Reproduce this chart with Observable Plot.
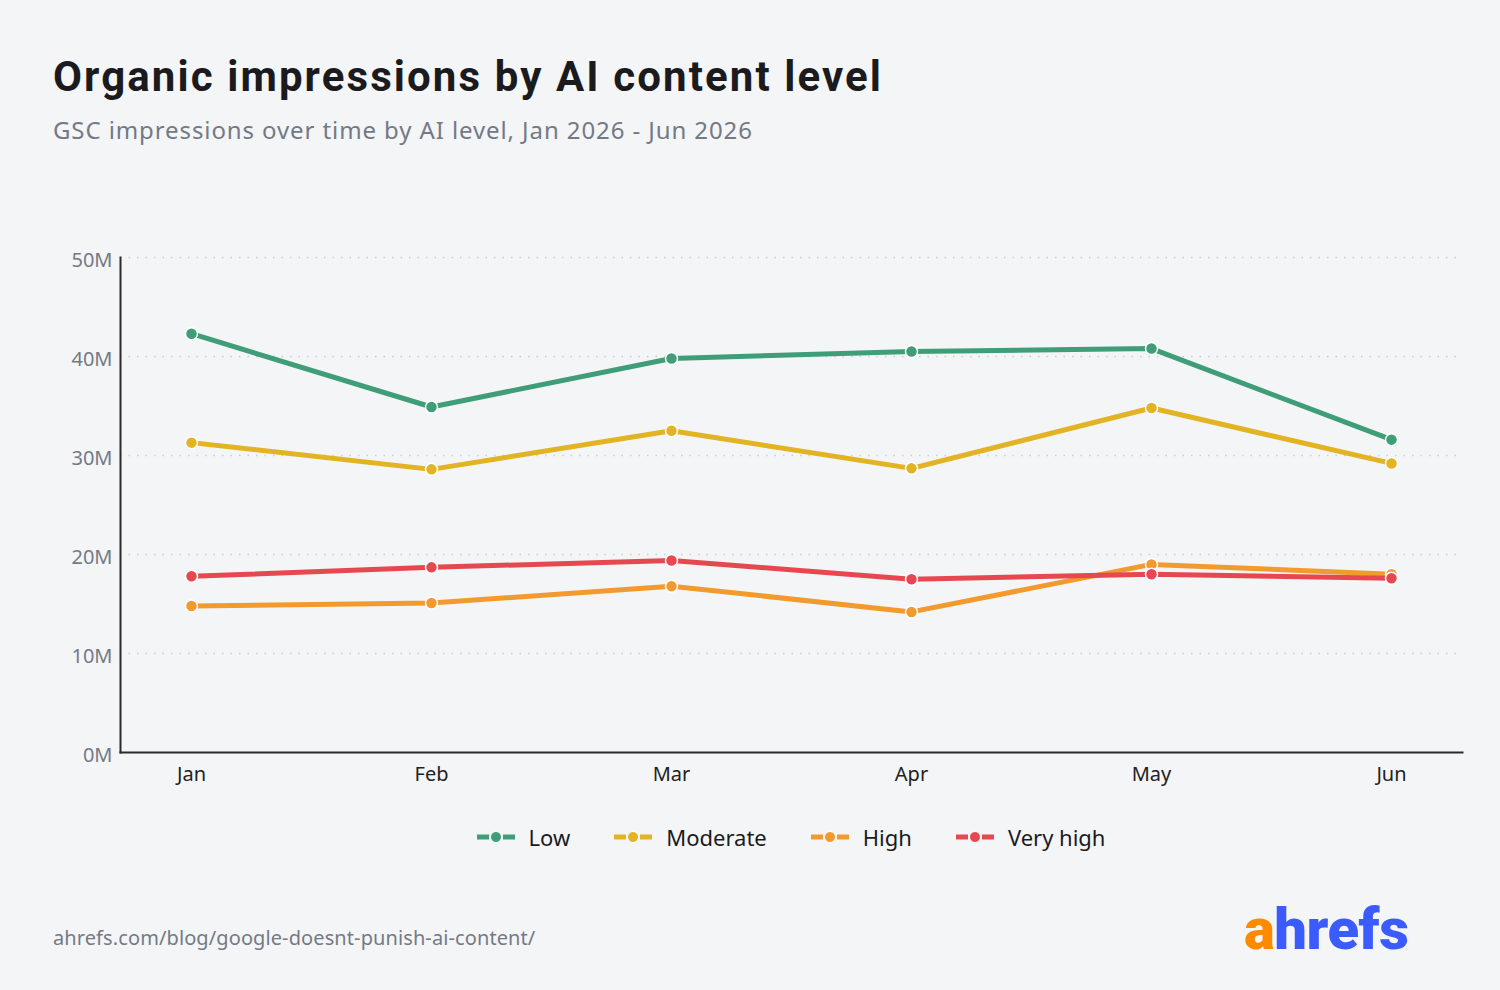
<!DOCTYPE html>
<html>
<head>
<meta charset="utf-8">
<script src="https://cdn.jsdelivr.net/npm/d3@7"></script>
<script src="https://cdn.jsdelivr.net/npm/@observablehq/plot@0.6"></script>
<style>
  html, body { margin: 0; padding: 0; background: #f4f5f7; }
  body { width: 1500px; height: 990px; position: relative; overflow: hidden; font-family: "Noto Sans", sans-serif; }
  #title { position: absolute; left: 53px; top: 52px; font-family: Roboto, sans-serif; font-weight: 700; font-size: 42px; color: #1b1b1d; letter-spacing: 2.1px; }
  #subtitle { position: absolute; left: 53px; top: 113px; font-size: 24px; color: #737a86; letter-spacing: 0.9px; }
  #chart { position: absolute; left: 0; top: 230px; }
  #legend { position: absolute; left: 120px; width: 1342px; top: 822px; display: flex; justify-content: center; gap: 44px; font-size: 22px; color: #1b1b1d; }
  .item { display: flex; align-items: center; gap: 14px; }
  #caption { position: absolute; left: 53px; top: 924px; font-size: 20px; color: #737a86; letter-spacing: 0.1px; }
  #logo { position: absolute; left: 1244px; top: 895px; font-family: Roboto, sans-serif; font-weight: 900; font-size: 58px; letter-spacing: -0.5px; }
  #logo .a { color: #ff8a00; } #logo .b { color: #3b5bfd; }
</style>
</head>
<body>
<div id="title">Organic impressions by AI content level</div>
<div id="subtitle">GSC impressions over time by AI level, Jan 2026 - Jun 2026</div>
<div id="chart"></div>
<div id="legend"></div>
<div id="caption">ahrefs.com/blog/google-doesnt-punish-ai-content/</div>
<div id="logo"><span class="a">a</span><span class="b">hrefs</span></div>
<script>
const months = ["Jan", "Feb", "Mar", "Apr", "May", "Jun"];
const seriesNames = ["Low", "Moderate", "High", "Very high"];
const seriesColors = ["#3f9d77", "#e2b322", "#f29a2d", "#e5494f"];
const low      = [42.3e6, 34.9e6, 39.8e6, 40.5e6, 40.8e6, 31.6e6];
const moderate = [31.3e6, 28.6e6, 32.5e6, 28.7e6, 34.8e6, 29.2e6];
const high     = [14.8e6, 15.1e6, 16.8e6, 14.2e6, 19.0e6, 18.0e6];
const veryHigh = [17.8e6, 18.7e6, 19.4e6, 17.5e6, 18.0e6, 17.6e6];
const yTicks = [0, 10e6, 20e6, 30e6, 40e6, 50e6];

const seriesValues = [low, moderate, high, veryHigh];
const data = [];
seriesNames.forEach((s, i) => months.forEach((m, j) => data.push({series: s, month: m, value: seriesValues[i][j]})));

const chart = Plot.plot({
  width: 1500,
  height: 560,
  marginTop: 27,
  marginBottom: 38,
  marginLeft: 120,
  marginRight: 38,
  style: { background: "transparent", fontFamily: "Noto Sans, sans-serif", fontSize: "20px", overflow: "visible" },
  x: { type: "point", domain: months, padding: 0.29, label: null },
  y: { domain: [0, 50e6], label: null },
  color: { domain: seriesNames, range: seriesColors },
  marks: [
    Plot.gridY(yTicks, { stroke: "#c9cdd3", strokeOpacity: 1, strokeWidth: 1.5, strokeDasharray: "1.5,7" }),
    Plot.axisY(yTicks, { tickSize: 0, tickPadding: 8, tickFormat: d => (d / 1e6) + "M", fill: "#737a86", fontSize: 20, dy: 3, label: null }),
    Plot.axisX({ tickSize: 0, tickPadding: 14, fill: "#222", fontSize: 20, label: null }),
    Plot.frame({ anchor: "left", stroke: "#2b2b2e", strokeWidth: 2 }),
    Plot.frame({ anchor: "bottom", stroke: "#2b2b2e", strokeWidth: 2 }),
    Plot.line(data, { x: "month", y: "value", z: "series", stroke: "series", strokeWidth: 5, strokeLinejoin: "round" }),
    Plot.dot(data, { x: "month", y: "value", fill: "series", r: 6, stroke: "white", strokeWidth: 1.5 })
  ]
});
document.getElementById("chart").appendChild(chart);

const legend = document.getElementById("legend");
seriesNames.forEach((s, i) => {
  const c = seriesColors[i];
  const item = document.createElement("div");
  item.className = "item";
  item.innerHTML = `<svg width="38" height="14" viewBox="0 0 38 14">
    <rect x="0" y="4.5" width="12" height="5" fill="${c}"/>
    <rect x="26" y="4.5" width="12" height="5" fill="${c}"/>
    <circle cx="19" cy="7" r="5.5" fill="${c}" stroke="white" stroke-width="1"/>
  </svg><span>${s}</span>`;
  legend.appendChild(item);
});
</script>
</body>
</html>
